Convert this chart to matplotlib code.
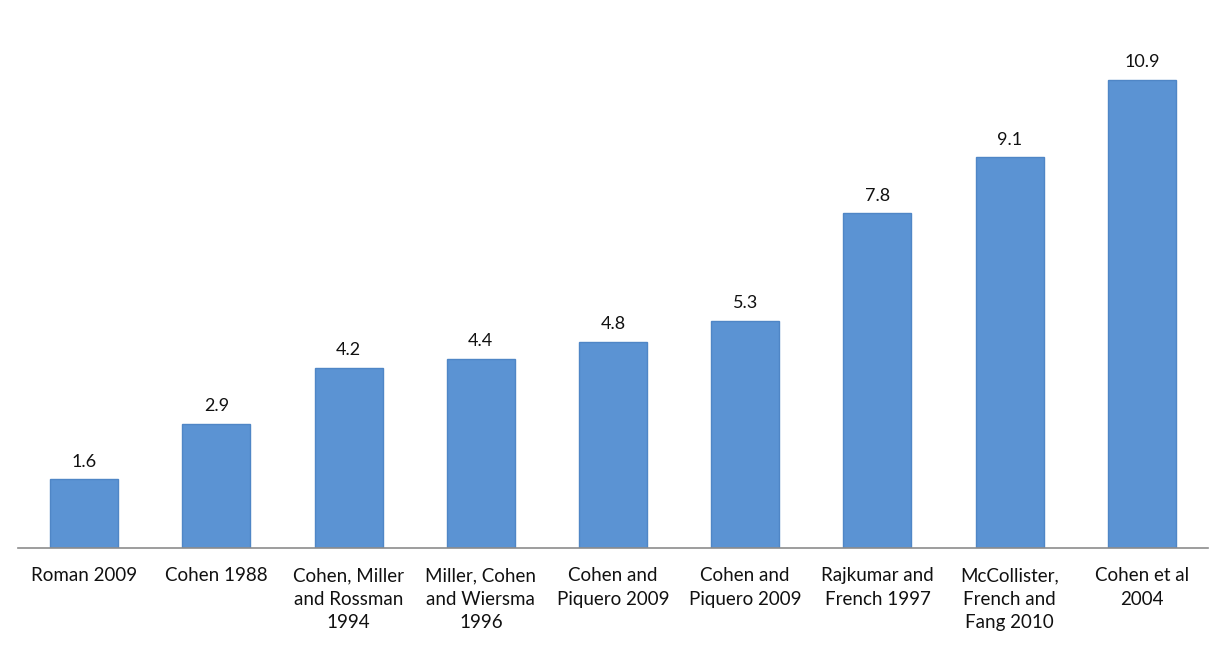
import matplotlib.pyplot as plt

# data
studies = ['Roman 2009', 'Cohen 1988', 'Cohen, Miller\nand Rossman\n1994',
           'Miller, Cohen\nand Wiersma\n1996', 'Cohen and\nPiquero 2009',
           'Cohen and\nPiquero 2009', 'Rajkumar and\nFrench 1997',
           'McCollister,\nFrench and\nFang 2010', 'Cohen et al\n2004']
values = [1.6, 2.9, 4.2, 4.4, 4.8, 5.3, 7.8, 9.1, 10.9]

plt.rcParams['font.family'] = ['Lato', 'DejaVu Sans']

fig = plt.figure(figsize=(12.25, 6.45), dpi=100)
ax = fig.add_axes([18 / 1225, 97 / 645, 1190 / 1225, 515 / 645])

x = range(len(studies))
bars = ax.bar(x, values, width=0.515, color='#5b93d3', edgecolor='#4f86c6', linewidth=1)

for b, v in zip(bars, values):
    ax.annotate('%.1f' % v, (b.get_x() + b.get_width() / 2, v),
                xytext=(0, 7), textcoords='offset points',
                ha='center', va='bottom', fontsize=13, color='#111111')

ax.set_xlim(-0.5, len(studies) - 0.5)
ax.set_ylim(0, 12)
ax.set_xticks(list(x))
ax.set_xticklabels(studies, fontsize=13.5, color='#111111', linespacing=1.45)
ax.tick_params(axis='x', length=0, pad=14)
ax.set_yticks([])
for s in ['top', 'right', 'left']:
    ax.spines[s].set_visible(False)
ax.spines['bottom'].set_color('#8c8c8c')
ax.spines['bottom'].set_linewidth(1.2)

fig.savefig('out.png', dpi=100)
